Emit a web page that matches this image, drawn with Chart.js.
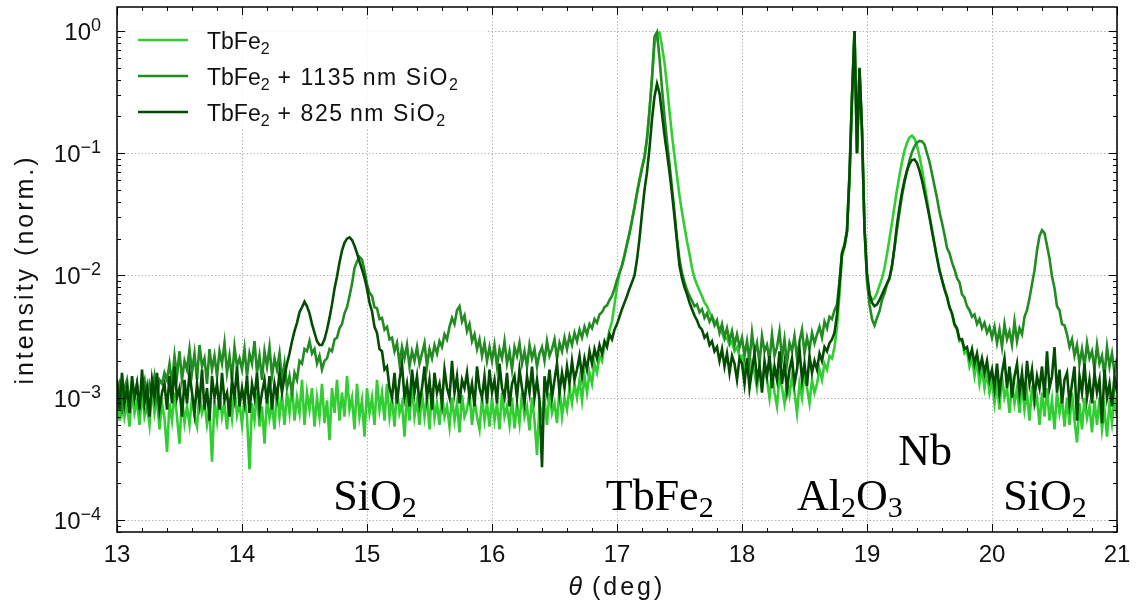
<!DOCTYPE html>
<html>
<head>
<meta charset="utf-8">
<script src="https://cdn.jsdelivr.net/npm/chart.js@4/dist/chart.umd.min.js"></script>
<style>
  html, body { margin: 0; background: #fff; }
  #wrap { width: 1138px; height: 612px; }
</style>
</head>
<body>
<div id="wrap"><canvas id="xrdChart"></canvas></div>
<script>
'use strict';

// scattering angle theta (deg)
const theta = [
  13.00,13.02,13.04,13.06,13.08,13.10,13.12,13.14,13.16,13.18,
  13.20,13.22,13.24,13.26,13.28,13.30,13.32,13.34,13.36,13.38,
  13.40,13.42,13.44,13.46,13.48,13.50,13.52,13.54,13.56,13.58,
  13.60,13.62,13.64,13.66,13.68,13.70,13.72,13.74,13.76,13.78,
  13.80,13.82,13.84,13.86,13.88,13.90,13.92,13.94,13.96,13.98,
  14.00,14.02,14.04,14.06,14.08,14.10,14.12,14.14,14.16,14.18,
  14.20,14.22,14.24,14.26,14.28,14.30,14.32,14.34,14.36,14.38,
  14.40,14.42,14.44,14.46,14.48,14.50,14.52,14.54,14.56,14.58,
  14.60,14.62,14.64,14.66,14.68,14.70,14.72,14.74,14.76,14.78,
  14.80,14.82,14.84,14.86,14.88,14.90,14.92,14.94,14.96,14.98,
  15.00,15.02,15.04,15.06,15.08,15.10,15.12,15.14,15.16,15.18,
  15.20,15.22,15.24,15.26,15.28,15.30,15.32,15.34,15.36,15.38,
  15.40,15.42,15.44,15.46,15.48,15.50,15.52,15.54,15.56,15.58,
  15.60,15.62,15.64,15.66,15.68,15.70,15.72,15.74,15.76,15.78,
  15.80,15.82,15.84,15.86,15.88,15.90,15.92,15.94,15.96,15.98,
  16.00,16.02,16.04,16.06,16.08,16.10,16.12,16.14,16.16,16.18,
  16.20,16.22,16.24,16.26,16.28,16.30,16.32,16.34,16.36,16.38,
  16.40,16.42,16.44,16.46,16.48,16.50,16.52,16.54,16.56,16.58,
  16.60,16.62,16.64,16.66,16.68,16.70,16.72,16.74,16.76,16.78,
  16.80,16.82,16.84,16.86,16.88,16.90,16.92,16.94,16.96,16.98,
  17.00,17.02,17.04,17.06,17.08,17.10,17.12,17.14,17.16,17.18,
  17.20,17.22,17.24,17.26,17.28,17.30,17.32,17.34,17.36,17.38,
  17.40,17.42,17.44,17.46,17.48,17.50,17.52,17.54,17.56,17.58,
  17.60,17.62,17.64,17.66,17.68,17.70,17.72,17.74,17.76,17.78,
  17.80,17.82,17.84,17.86,17.88,17.90,17.92,17.94,17.96,17.98,
  18.00,18.02,18.04,18.06,18.08,18.10,18.12,18.14,18.16,18.18,
  18.20,18.22,18.24,18.26,18.28,18.30,18.32,18.34,18.36,18.38,
  18.40,18.42,18.44,18.46,18.48,18.50,18.52,18.54,18.56,18.58,
  18.60,18.62,18.64,18.66,18.68,18.70,18.72,18.74,18.76,18.78,
  18.80,18.82,18.84,18.86,18.88,18.90,18.92,18.94,18.96,18.98,
  19.00,19.02,19.04,19.06,19.08,19.10,19.12,19.14,19.16,19.18,
  19.20,19.22,19.24,19.26,19.28,19.30,19.32,19.34,19.36,19.38,
  19.40,19.42,19.44,19.46,19.48,19.50,19.52,19.54,19.56,19.58,
  19.60,19.62,19.64,19.66,19.68,19.70,19.72,19.74,19.76,19.78,
  19.80,19.82,19.84,19.86,19.88,19.90,19.92,19.94,19.96,19.98,
  20.00,20.02,20.04,20.06,20.08,20.10,20.12,20.14,20.16,20.18,
  20.20,20.22,20.24,20.26,20.28,20.30,20.32,20.34,20.36,20.38,
  20.40,20.42,20.44,20.46,20.48,20.50,20.52,20.54,20.56,20.58,
  20.60,20.62,20.64,20.66,20.68,20.70,20.72,20.74,20.76,20.78,
  20.80,20.82,20.84,20.86,20.88,20.90,20.92,20.94,20.96,20.98,
  21.00
];

// TbFe2 only
const intensityBare = [
  .001,.00065,.0012,.0007,.0009,.00058,.0011,.00075,.00095,.0006,
  .0011,.0007,.00085,.0006,.0012,.00075,.001,.00055,.0009,.00068,
  .00036,.0009,.00065,.0011,.0007,.00042,.001,.00062,.00085,.0006,
  .001,.0007,.00058,.0011,.00075,.0009,.0006,.0008,.0003,.00095,
  .00065,.0011,.0007,.0009,.00055,.001,.00068,.0012,.00072,.0009,
  .0006,.001,.0007,.00026,.0009,.00065,.0011,.00058,.00085,.00042,
  .001,.00068,.0009,.00055,.0012,.0007,.00105,.0006,.0011,.00075,
  .0013,.00065,.001,.00075,.0014,.0006,.0011,.0008,.0012,.00058,
  .001,.0007,.0013,.00062,.00095,.00045,.0012,.00075,.0014,.00065,
  .0011,.0007,.0015,.0008,.001,.00055,.0013,.0007,.00095,.00048,
  .0012,.00075,.001,.0006,.0014,.0008,.0011,.00065,.0013,.0007,
  .001,.00058,.0012,.00075,.0009,.00048,.0011,.00065,.0013,.0007,
  .00095,.0006,.0011,.0007,.001,.00055,.0012,.00068,.0009,.0006,
  .0011,.0007,.00085,.00058,.001,.00065,.0009,.00052,.00105,.0007,
  .0008,.0011,.0006,.00095,.0007,.00055,.001,.00065,.0009,.00058,
  .001,.00065,.0009,.00055,.0011,.0007,.00085,.0006,.001,.00056,
  .0009,.00062,.0011,.0007,.00085,.00054,.001,.00065,.00034,.0009,
  .0007,.001,.0006,.0011,.00075,.0009,.00062,.0012,.0007,.001,
  .0008,.0012,.0009,.0013,.001,.0014,.00095,.0015,.0011,.0016,
  .0013,.0019,.0016,.0022,.002,.0027,.0028,.0036,.0042,.0058,
  .008,.0105,.0122,.0148,.0182,.0225,.0285,.0365,.0475,.061,
  .077,.095,.135,.23,.40,.78,.95,.97,.75,.55,
  .36,.22,.14,.095,.065,.045,.033,.025,.019,.015,
  .0115,.0095,.0084,.0075,.0068,.006,.0056,.005,.0046,.0042,
  .004,.0036,.0034,.003,.0031,.0027,.0029,.0024,.0026,.0022,
  .0022,.0017,.002,.0014,.0019,.0016,.0012,.0018,.00135,.0017,
  .0014,.001,.0016,.0011,.00085,.0015,.0012,.0009,.0014,.00105,
  .0015,.0011,.00075,.0013,.001,.0016,.0012,.0009,.0014,.0011,
  .0013,.0017,.0014,.0019,.0017,.0022,.0021,.0026,.0038,.007,
  .0145,.017,.0225,.06,.28,.97,.10,.49,.15,.024,
  .0095,.007,.0063,.0065,.0072,.0083,.0095,.0115,.015,.02,
  .027,.037,.05,.066,.085,.105,.122,.135,.139,.132,
  .115,.094,.074,.056,.042,.031,.024,.018,.014,.011,
  .0092,.0078,.0067,.0055,.0049,.0039,.0036,.0029,.003,.0023,
  .0024,.0018,.0021,.0015,.002,.0013,.0017,.0012,.0016,.0011,
  .0014,.0009,.0013,.0008,.0015,.001,.0012,.00075,.0013,.0009,
  .0012,.00075,.0013,.0008,.0011,.00065,.00125,.00085,.001,.0006,
  .0011,.0007,.0012,.00065,.00095,.00055,.0011,.00075,.001,.00058,
  .001,.0006,.0011,.00065,.00043,.0009,.00055,.001,.00068,.00085,
  .00052,.00095,.0006,.001,.00055,.0008,.00048,.0009,.00062,.001,
  .0007
];

// TbFe2 + 1135 nm SiO2
const intensity1135 = [
  .0011,.0013,.0008,.0012,.0014,.0009,.0013,.001,.0013,.00085,
  .0012,.0014,.0009,.0013,.0011,.0015,.001,.0014,.0013,.0016,
  .0014,.0019,.0013,.0022,.0015,.0024,.0014,.002,.0017,.0025,
  .0016,.0023,.0014,.0027,.0018,.0021,.0013,.0025,.0017,.0022,
  .0015,.0024,.0019,.0028,.0016,.0022,.0014,.0026,.0018,.0021,
  .0017,.0025,.0015,.0023,.0019,.0029,.0016,.0022,.0014,.0024,
  .0018,.0026,.0015,.0021,.0017,.0023,.0014,.0019,.0012,.0015,
  .0011,.0016,.0014,.002,.0019,.0025,.0024,.0029,.0023,.0025,
  .0019,.0022,.0017,.002,.0021,.0025,.0024,.003,.0031,.0037,
  .004,.0049,.0055,.0068,.0085,.0115,.013,.0142,.0135,.011,
  .0085,.0072,.0068,.0055,.0054,.0044,.0045,.0036,.0038,.003,
  .0031,.0024,.0028,.0019,.0026,.0021,.0027,.0018,.0024,.002,
  .0026,.0019,.0023,.0028,.0018,.0025,.0021,.0027,.0023,.0029,
  .0026,.0033,.003,.0038,.0045,.004,.0052,.0056,.0042,.0047,
  .0035,.004,.0029,.0033,.0025,.003,.0022,.0028,.002,.0026,
  .002,.0027,.0018,.0025,.0021,.0029,.0019,.0024,.0017,.0026,
  .0022,.0028,.0019,.0024,.0018,.0027,.0021,.0025,.0018,.0023,
  .0026,.002,.0029,.0022,.0025,.003,.0021,.0028,.0024,.0031,
  .0025,.0032,.0027,.0034,.0029,.0036,.0031,.0038,.0033,.004,
  .0037,.0044,.0041,.0048,.005,.0055,.0057,.0063,.0068,.0078,
  .0092,.0105,.012,.0145,.018,.022,.028,.036,.047,.06,
  .075,.092,.13,.22,.42,.90,.98,.60,.34,.20,
  .125,.082,.052,.033,.02,.0135,.0105,.0088,.0076,.0068,
  .0062,.0056,.0058,.005,.0053,.0045,.0049,.0042,.0046,.0039,
  .0043,.0034,.004,.0031,.0037,.0029,.0035,.0027,.0033,.0026,
  .0031,.0022,.0029,.002,.0034,.0023,.0028,.0019,.0032,.0024,
  .0027,.002,.0033,.0022,.0026,.0035,.0021,.003,.0019,.0028,
  .0024,.0032,.0021,.0029,.0036,.0023,.0031,.0025,.0034,.0028,
  .0033,.0038,.0031,.0042,.0037,.0046,.0044,.0052,.0058,.009,
  .0155,.018,.0235,.07,.30,1.0,.10,.48,.16,.025,
  .009,.0058,.0044,.0039,.0045,.0051,.0063,.0071,.0085,.0094,
  .012,.017,.024,.033,.045,.058,.072,.088,.102,.114,
  .122,.126,.125,.118,.10,.085,.068,.054,.043,.033,
  .027,.0215,.0168,.0152,.0128,.0112,.0095,.0088,.007,.0066,
  .0056,.0052,.0046,.0048,.004,.0044,.0037,.0041,.0034,.0038,
  .0031,.0038,.0028,.0036,.0026,.004,.003,.0035,.0027,.0042,
  .0029,.0037,.0033,.0046,.0052,.0065,.0085,.011,.016,.021,
  .0235,.0222,.0176,.0138,.0098,.0079,.0056,.0052,.004,.0039,
  .0033,.0026,.003,.0022,.0027,.0019,.0025,.0018,.0028,.0021,
  .0024,.0017,.0027,.0019,.0022,.0015,.0026,.0018,.0023,.0016,
  .0021
];

// TbFe2 + 825 nm SiO2
const intensity825 = [
  .0014,.0008,.0016,.0009,.0012,.00075,.0015,.001,.0013,.0008,
  .0017,.0009,.0012,.0007,.0014,.001,.0016,.0008,.0011,.0013,
  .0008,.0015,.0009,.0018,.001,.0012,.0007,.0014,.0009,.0016,
  .0011,.00075,.0013,.0009,.0017,.0008,.0012,.00065,.0015,.001,
  .0013,.0008,.0016,.00095,.0011,.0007,.0014,.001,.0018,.00085,
  .0012,.0009,.0015,.00075,.0013,.001,.0016,.0008,.0011,.0014,
  .0009,.0015,.0008,.0013,.001,.0016,.0011,.0015,.0019,.0023,
  .0029,.0035,.0041,.005,.0055,.0061,.0056,.0049,.004,.0034,
  .0029,.0027,.0027,.003,.0036,.0045,.0058,.0078,.0098,.0128,
  .016,.0185,.02,.0205,.0195,.0175,.0152,.013,.0112,.0096,
  .0078,.006,.0051,.0038,.0034,.0025,.0024,.0017,.0018,.0012,
  .001,.0016,.0009,.0014,.0019,.001,.0013,.00085,.0017,.0011,
  .0015,.0009,.0012,.0018,.001,.0014,.0008,.0016,.0011,.0013,
  .0009,.0017,.0012,.001,.002,.0011,.0015,.0009,.0014,.0012,
  .0016,.001,.0013,.00085,.0018,.0012,.001,.0015,.0009,.0017,
  .0011,.0014,.0009,.0019,.0012,.001,.0016,.00085,.0013,.0015,
  .001,.0017,.0012,.0009,.0015,.0011,.0018,.001,.0014,.00095,
  .00027,.0015,.0011,.0017,.001,.0014,.0019,.0011,.0016,.0012,
  .0018,.0013,.002,.0014,.0017,.0022,.0015,.0021,.0017,.0024,
  .0019,.0025,.0021,.0027,.0023,.0029,.0026,.0033,.003,.0036,
  .004,.0046,.0053,.006,.0068,.0078,.0088,.01,.0135,.02,
  .032,.05,.07,.11,.19,.29,.37,.31,.21,.14,
  .10,.07,.047,.03,.019,.012,.0095,.008,.007,.006,
  .0053,.0047,.0043,.0038,.0036,.0031,.0033,.0027,.0029,.0024,
  .0026,.002,.0025,.0018,.0023,.0016,.0022,.0019,.0014,.0021,
  .0019,.0013,.0021,.0012,.0017,.0023,.0014,.0018,.0011,.002,
  .0015,.0022,.0012,.0018,.0014,.0024,.0013,.0019,.00115,.0017,
  .0021,.0013,.0017,.0025,.0014,.0019,.00125,.0022,.0016,.002,
  .0017,.0023,.002,.0026,.0024,.0028,.003,.0034,.0048,.0085,
  .015,.0175,.023,.065,.28,1.0,.10,.50,.15,.024,
  .0105,.007,.006,.0056,.0058,.0063,.007,.0078,.0086,.0096,
  .012,.017,.026,.036,.048,.06,.072,.082,.088,.089,
  .083,.072,.06,.048,.038,.03,.023,.018,.014,.011,
  .0092,.0077,.0067,.0055,.0049,.004,.0037,.003,.003,.0025,
  .0026,.0021,.0025,.0019,.0023,.0017,.0021,.0016,.002,.0014,
  .0017,.0012,.0019,.0011,.0016,.0021,.0012,.0018,.001,.0015,
  .0019,.0011,.0016,.00095,.002,.0013,.0017,.001,.0015,.0012,
  .0018,.001,.0024,.0012,.0015,.0026,.0011,.0017,.0009,.0014,
  .0016,.0009,.0013,.0018,.00065,.0015,.0011,.0019,.001,.0014,
  .0009,.0016,.0011,.0014,.00062,.0017,.001,.0013,.00085,.0015,
  .0011
];

const seriesColors = ['#32cd32', '#228b22', '#034d03'];

// legend texts, pieces marked 'sub' are subscripts
const seriesLabels = [
  [['TbFe', 'm'], ['2', 'sub']],
  [['TbFe', 'm'], ['2', 'sub'], [' + 1135\u2009nm SiO', ''], ['2', 'sub']],
  [['TbFe', 'm'], ['2', 'sub'], [' + 825\u2009nm SiO', ''], ['2', 'sub']]
];

const xMajorTicks = [13, 14, 15, 16, 17, 18, 19, 20, 21];
const yDecades = [-4, -3, -2, -1, 0];

// reflection names, anchored at (theta of left edge, intensity of baseline)
const peakNames = [
  [['SiO', 'm'], ['2', 'sub']],
  [['TbFe', 'm'], ['2', 'sub']],
  [['Al', 'm'], ['2', 'sub'], ['O', 'm'], ['3', 'sub']],
  [['Nb', 'm']],
  [['SiO', 'm'], ['2', 'sub']]
];
const peakNameTheta = [14.73, 16.91, 18.44, 19.25, 20.09];
const peakNameLevel = [1.2e-4, 1.2e-4, 1.2e-4, 2.8e-4, 1.2e-4];

const SANS = '"Liberation Sans", Arial, sans-serif';
const SERIF = '"Liberation Serif", "Times New Roman", serif';

// parts: [text, kind]; kind '' = plain text (tracked), 'm' = math text, 'sub'/'sup' = small
function setPart(ctx, p, font, smallFont, track) {
  ctx.font = (p[1] === 'sub' || p[1] === 'sup') ? smallFont : font;
  ctx.letterSpacing = p[1] === '' ? track + 'px' : '0px';
}

function richWidth(ctx, parts, font, smallFont, track) {
  let w = 0;
  parts.forEach(function(p) {
    setPart(ctx, p, font, smallFont, track);
    w += ctx.measureText(p[0]).width;
  });
  ctx.letterSpacing = '0px';
  return w;
}

function drawRich(ctx, parts, x, y, font, smallFont, subDy, supDy, track) {
  ctx.textAlign = 'left';
  ctx.textBaseline = 'alphabetic';
  parts.forEach(function(p) {
    setPart(ctx, p, font, smallFont, track || 0);
    let dy = 0;
    if (p[1] === 'sub') dy = subDy;
    if (p[1] === 'sup') dy = supDy;
    ctx.fillText(p[0], x, y + dy);
    x += ctx.measureText(p[0]).width;
  });
  ctx.letterSpacing = '0px';
}

const decorPlugin = {
  id: 'decor',
  beforeDatasetsDraw(chart) {
    const ctx = chart.ctx, a = chart.chartArea;
    const xs = chart.scales.x, ys = chart.scales.y;
    ctx.save();
    ctx.strokeStyle = '#b4b4b4';
    ctx.lineWidth = 1;
    ctx.setLineDash([1.5, 2]);
    xMajorTicks.forEach(function(v) {
      const px = Math.round(xs.getPixelForValue(v)) + 0.5;
      ctx.beginPath(); ctx.moveTo(px, a.top); ctx.lineTo(px, a.bottom); ctx.stroke();
    });
    yDecades.forEach(function(e) {
      const py = Math.round(ys.getPixelForValue(Math.pow(10, e))) + 0.5;
      ctx.beginPath(); ctx.moveTo(a.left, py); ctx.lineTo(a.right, py); ctx.stroke();
    });
    ctx.restore();
  },
  afterDatasetsDraw(chart) {
    const ctx = chart.ctx, a = chart.chartArea;
    const xs = chart.scales.x, ys = chart.scales.y;
    ctx.save();

    // legend
    ctx.fillStyle = 'rgba(255,255,255,0.85)';
    ctx.fillRect(126, 21, 362, 108);
    seriesLabels.forEach(function(parts, i) {
      const y = 40 + i * 36;
      ctx.strokeStyle = seriesColors[i];
      ctx.lineWidth = 2.5;
      ctx.beginPath(); ctx.moveTo(138, y); ctx.lineTo(188, y); ctx.stroke();
      ctx.fillStyle = '#111';
      drawRich(ctx, parts, 207, y + 9, '23px ' + SANS, '16px ' + SANS, 5, 0, 1.6);
    });

    // frame
    ctx.strokeStyle = '#000';
    ctx.lineWidth = 1.5;
    ctx.strokeRect(a.left, a.top, a.right - a.left, a.bottom - a.top);

    // inward ticks on all four sides
    ctx.lineWidth = 1;
    function seg(x1, y1, x2, y2) { ctx.beginPath(); ctx.moveTo(x1, y1); ctx.lineTo(x2, y2); ctx.stroke(); }
    for (let i = 13; i <= 21; i++) {
      for (let k = 0; k < 5; k++) {
        const v = i + k * 0.2;
        if (v > 21) break;
        const px = Math.round(xs.getPixelForValue(v)) + 0.5;
        const len = k === 0 ? 8 : 4;
        seg(px, a.bottom, px, a.bottom - len);
        seg(px, a.top, px, a.top + len);
      }
    }
    for (let e = -5; e <= 0; e++) {
      for (let m = 1; m <= 9; m++) {
        const v = m * Math.pow(10, e);
        if (v < ys.min || v > ys.max) continue;
        const py = Math.round(ys.getPixelForValue(v)) + 0.5;
        const len = m === 1 ? 8 : 4;
        seg(a.left, py, a.left + len, py);
        seg(a.right, py, a.right - len, py);
      }
    }

    // tick labels
    ctx.fillStyle = '#111';
    ctx.font = '24px ' + SANS;
    ctx.textAlign = 'center';
    ctx.textBaseline = 'alphabetic';
    xMajorTicks.forEach(function(v) {
      ctx.fillText(String(v), xs.getPixelForValue(v), 562);
    });
    yDecades.forEach(function(e) {
      const parts = [['10', 'm'], [e === 0 ? '0' : '\u2212' + (-e), 'sup']];
      const font = '24px ' + SANS, small = '18px ' + SANS;
      const w = richWidth(ctx, parts, font, small, 0);
      const py = ys.getPixelForValue(Math.pow(10, e));
      drawRich(ctx, parts, a.left - 16 - w, py + 9, font, small, 0, -9, 0);
    });

    // axis titles
    const xTitle = [['θ', 'm'], [' (deg)', '']];
    const tFont = '25px ' + SANS;
    const xw = richWidth(ctx, [['θ', 'sub'], [' (deg)', '']], 'italic 25px ' + SANS, tFont, 3);
    const x0 = (a.left + a.right) / 2 - xw / 2;
    ctx.font = 'italic 25px ' + SANS;
    ctx.letterSpacing = '0px';
    ctx.textAlign = 'left';
    ctx.fillText('θ', x0, 595);
    const thW = ctx.measureText('θ').width;
    ctx.font = tFont;
    ctx.letterSpacing = '3px';
    ctx.fillText(' (deg)', x0 + thW, 595);

    ctx.save();
    ctx.translate(26, (a.top + a.bottom) / 2);
    ctx.rotate(-Math.PI / 2);
    ctx.font = tFont;
    ctx.letterSpacing = '3px';
    ctx.textAlign = 'center';
    ctx.textBaseline = 'middle';
    ctx.fillText('intensity (norm.)', 0, 0);
    ctx.restore();
    ctx.letterSpacing = '0px';

    // reflection names
    ctx.fillStyle = '#000';
    peakNames.forEach(function(parts, i) {
      const px = xs.getPixelForValue(peakNameTheta[i]);
      const py = ys.getPixelForValue(peakNameLevel[i]);
      drawRich(ctx, parts, px, py, '44px ' + SERIF, '30px ' + SERIF, 7, 0, 0);
    });

    ctx.restore();
  }
};

const seriesValues = [intensityBare, intensity1135, intensity825];

new Chart(document.getElementById('xrdChart').getContext('2d'), {
  type: 'line',
  data: {
    datasets: seriesValues.map(function(vals, i) {
      return {
        data: theta.map(function(t, j) { return { x: t, y: vals[j] }; }),
        borderColor: seriesColors[i],
        borderWidth: 2.6,
        pointRadius: 0,
        tension: 0,
        fill: false,
        order: 3 - i
      };
    })
  },
  options: {
    responsive: true,
    maintainAspectRatio: false,
    animation: false,
    events: [],
    layout: { padding: { left: 117, right: 21, top: 7, bottom: 80 } },
    plugins: { legend: { display: false }, tooltip: { enabled: false } },
    scales: {
      x: { type: 'linear', min: 13, max: 21, display: false },
      y: { type: 'logarithmic', min: 7.97e-5, max: 1.572, display: false }
    }
  },
  plugins: [decorPlugin]
});
</script>
</body>
</html>
